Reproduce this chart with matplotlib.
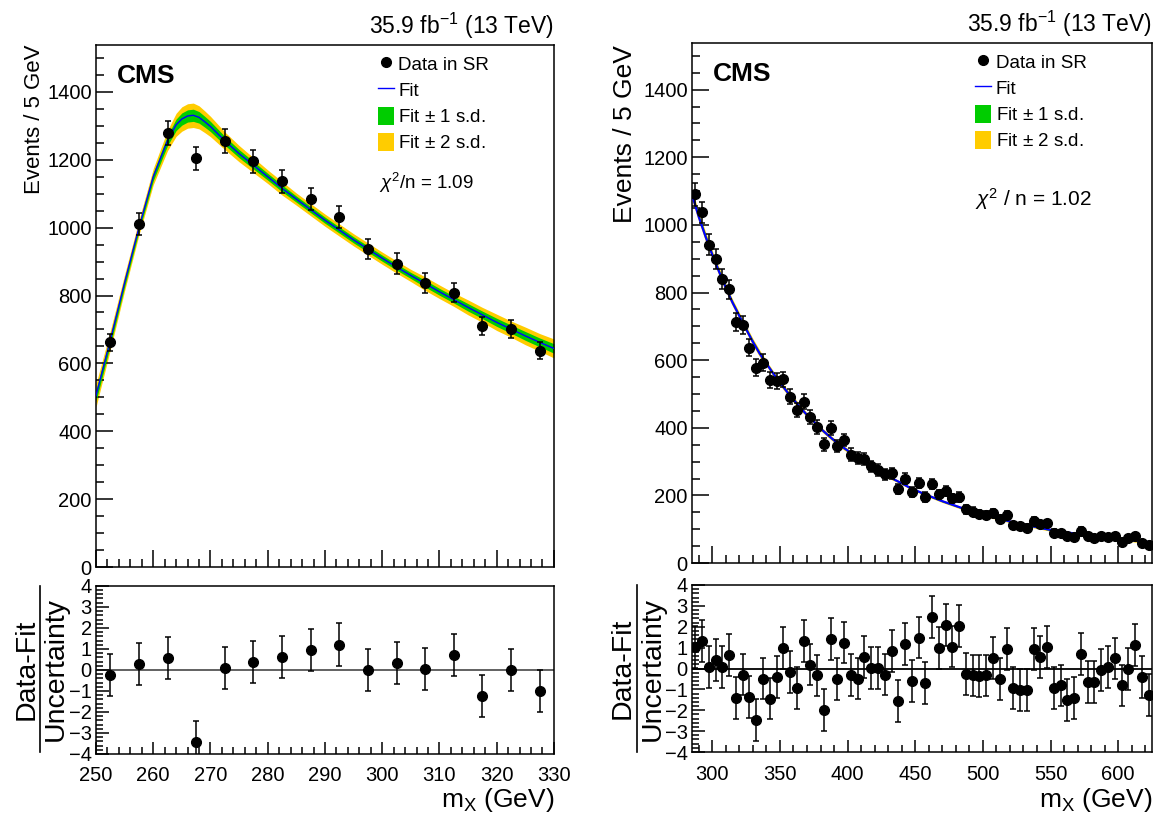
import numpy as np
import matplotlib
matplotlib.use('Agg')
import matplotlib.pyplot as plt
from matplotlib.lines import Line2D
from matplotlib.patches import Patch
from matplotlib.ticker import MultipleLocator

plt.rcParams['font.family'] = ['Liberation Sans', 'DejaVu Sans']
plt.rcParams['mathtext.fontset'] = 'custom'
plt.rcParams['mathtext.rm'] = 'Liberation Sans'
plt.rcParams['mathtext.it'] = 'Liberation Sans:italic'
plt.rcParams['mathtext.bf'] = 'Liberation Sans:bold'

# ---- linkes Panel: Daten (5 GeV Bins) ----
m_left = [252.5, 257.5, 262.5, 267.5, 272.5, 277.5, 282.5, 287.5,
          292.5, 297.5, 302.5, 307.5, 312.5, 317.5, 322.5, 327.5]
n_left = [662, 1010, 1278, 1204, 1256, 1195, 1136, 1084,
          1031, 937, 894, 837, 808, 709, 701, 637]
pull_left = [-0.24, 0.30, 0.58, -3.43, 0.08, 0.38, 0.61, 0.94,
             1.21, -0.02, 0.33, 0.06, 0.71, -1.23, -0.02, -0.98]

# Fit-Kurve links und 1 s.d. Breite
mfit_left = [250, 252.5, 255, 257.5, 260, 262.5, 264, 265, 266, 267, 268, 269,
             270, 272.5, 275, 277.5, 280, 282.5, 285, 287.5, 290, 292.5, 295,
             297.5, 300, 302.5, 305, 307.5, 310, 312.5, 315, 317.5, 320, 322.5,
             325, 327.5, 330]
fit_left = [505, 668, 838, 1000, 1150, 1257, 1303, 1320, 1329, 1331, 1325, 1312,
            1298, 1256, 1218, 1184, 1150, 1116, 1084, 1053, 1022, 993, 964,
            937, 910, 884, 859, 835, 811, 788, 765, 743, 721, 701,
            681, 662, 644]
sd_left = [17, 14, 12, 11, 12, 15, 17, 18, 18, 18, 17, 16,
           15, 13, 12, 11, 10, 10, 9, 9, 9, 9, 9,
           9, 9, 9, 9, 10, 10, 10, 11, 11, 12, 12,
           13, 13, 14]

# ---- rechtes Panel: Daten (5 GeV Bins, 285-625) ----
m_right = [287.5 + 5 * i for i in range(68)]
n_right = [1090, 1037, 941, 899, 840, 810, 714, 704, 637, 578,
           593, 541, 538, 543, 492, 453, 477, 433, 402, 351,
           400, 346, 364, 321, 312, 308, 286, 275, 263, 265,
           218, 250, 211, 236, 195, 233, 203, 213, 191, 196,
           159, 152, 146, 141, 149, 129, 142, 112, 109, 104,
           125, 114, 117, 90, 88, 80, 78, 96, 80, 75,
           80, 78, 80, 63, 73, 80, 60, 53]
pull_right = [1.03, 1.33, 0.06, 0.41, 0.08, 0.65, -1.41, -0.29, -1.37, -2.46,
              -0.48, -1.44, -0.41, 0.98, -0.16, -0.94, 1.32, 0.19, -0.33, -1.98,
              1.41, -0.51, 1.24, -0.32, -0.48, 0.56, 0.02, 0.02, -0.29, 0.83,
              -1.57, 1.19, -0.60, 1.48, -0.68, 2.46, 0.98, 2.08, 1.05, 2.03,
              -0.25, -0.33, -0.37, -0.33, 0.51, -0.49, 0.95, -0.94, -1.03, -1.03,
              0.94, 0.56, 1.02, -0.94, -0.81, -1.52, -1.43, 0.70, -0.63, -0.65,
              -0.08, 0.08, 0.48, -0.81, -0.02, 1.14, -0.41, -1.27]

mfit_right = [285 + 5 * i for i in range(69)]
fit_right = [1090, 1024, 966, 912, 862, 814, 770, 731, 692, 654,
             620, 590, 561, 534, 508, 484, 460, 438, 419, 398,
             380, 363, 347, 333, 318, 305, 292, 280, 268, 257,
             246, 236, 225, 216, 207, 199, 191, 183, 176, 169,
             162, 156, 150, 144, 138, 133, 128, 123, 118, 114,
             110, 106, 102, 98, 95, 92, 89, 86, 83, 80,
             78, 75, 73, 71, 69, 67, 65, 63, 61]
sd_right = [8, 7, 7, 6, 6, 6, 5, 5, 5, 5,
            5, 4, 4, 4, 4, 4, 4, 3, 3, 3,
            3, 3, 3, 3, 3, 3, 3, 3, 3, 3,
            2, 2, 2, 2, 2, 2, 2, 2, 2, 2,
            2, 2, 2, 2, 2, 2, 2, 2, 2, 2,
            2, 2, 2, 2, 2, 2, 2, 2, 2, 2,
            2, 2, 2, 2, 2, 2, 2, 2, 2]

GREEN = '#00cc00'
YELLOW = '#ffcc00'
BLUE = '#0000ff'


def style_axes(ax, maj, mino):
    ax.tick_params(which='both', direction='in', top=False, right=False,
                   labelsize=14.5, width=1.1, pad=3)
    ax.tick_params(which='major', length=maj)
    ax.tick_params(which='minor', length=mino)
    ax.tick_params(axis='x', pad=9)
    for s in ax.spines.values():
        s.set_linewidth(1.1)


def draw_top(ax, m, n, mf, f, sd, lw_fit):
    mf = np.array(mf, dtype=float)
    f = np.array(f, dtype=float)
    sd = np.array(sd, dtype=float)
    ax.fill_between(mf, f - 2 * sd, f + 2 * sd, color=YELLOW, lw=0, zorder=1)
    ax.fill_between(mf, f - sd, f + sd, color=GREEN, lw=0, zorder=2)
    ax.plot(mf, f, color=BLUE, lw=lw_fit, zorder=3)
    ax.errorbar(m, n, yerr=np.sqrt(n), fmt='o', color='black', ms=7,
                elinewidth=1.1, capsize=2.5, capthick=1.1, zorder=4)
    ax.set_ylim(0, 1538)
    ax.yaxis.set_major_locator(MultipleLocator(200))
    ax.yaxis.set_minor_locator(MultipleLocator(50))
    ax.tick_params(labelbottom=False)
    handles = [Line2D([], [], marker='o', color='black', ls='none', ms=7),
               Line2D([], [], color=BLUE, lw=1),
               Patch(facecolor=GREEN, edgecolor='none'),
               Patch(facecolor=YELLOW, edgecolor='none')]
    labels = ['Data in SR', 'Fit', r'Fit $\pm$ 1 s.d.', r'Fit $\pm$ 2 s.d.']
    ax.legend(handles, labels, loc='upper left', bbox_to_anchor=(0.615, 0.982),
              frameon=False, fontsize=13.5, handlelength=0.85, handleheight=1.1,
              handletextpad=0.25, labelspacing=0.36, borderaxespad=0,
              borderpad=0)


def draw_bottom(ax, m, p, zero_col):
    ax.axhline(0, color=zero_col, lw=1.3, zorder=1)
    ax.errorbar(m, p, yerr=np.ones(len(p)), fmt='o', color='black', ms=7,
                elinewidth=1.1, capsize=2.5, capthick=1.1, zorder=3)
    ax.set_ylim(-4, 4)
    ax.yaxis.set_major_locator(MultipleLocator(1))
    ax.yaxis.set_minor_locator(MultipleLocator(0.2))


def frac_label(fig, x_num, x_bar, x_den, y0, y1, size):
    yc = 0.5 * (y0 + y1)
    fig.text(x_num, yc, 'Data-Fit', rotation=90, fontsize=size,
             ha='center', va='center')
    fig.text(x_den, yc, 'Uncertainty', rotation=90, fontsize=size,
             ha='center', va='center')
    fig.add_artist(Line2D([x_bar, x_bar], [y0, y1], color='black', lw=1.2,
                          transform=fig.transFigure))


fig = plt.figure(figsize=(11.55, 8.16), dpi=100)

# Panels (Positionen in Figurenbruchteilen)
ax_lt = fig.add_axes([0.0831, 0.3051, 0.3965, 0.6397])
ax_lb = fig.add_axes([0.0831, 0.0760, 0.3965, 0.2060])
ax_rt = fig.add_axes([0.5991, 0.3100, 0.3983, 0.6373])
ax_rb = fig.add_axes([0.5991, 0.0784, 0.3983, 0.2047])

# links
draw_top(ax_lt, m_left, n_left, mfit_left, fit_left, sd_left, 1.0)
draw_bottom(ax_lb, m_left, pull_left, '#555555')
for ax in (ax_lt, ax_lb):
    ax.set_xlim(250, 330)
    ax.xaxis.set_major_locator(MultipleLocator(10))
    ax.xaxis.set_minor_locator(MultipleLocator(2))
style_axes(ax_lt, 12, 6)
style_axes(ax_lb, 9, 5)

# rechts
draw_top(ax_rt, m_right, n_right, mfit_right, fit_right, sd_right, 1.6)
draw_bottom(ax_rb, m_right, pull_right, 'black')
for ax in (ax_rt, ax_rb):
    ax.set_xlim(285, 625)
    ax.xaxis.set_major_locator(MultipleLocator(50))
    ax.xaxis.set_minor_locator(MultipleLocator(10))
style_axes(ax_rt, 12, 6)
style_axes(ax_rb, 9, 5)

# Texte
for ax, chi, chx, chy, chs in [(ax_lt, r'$\chi^2$/n = 1.09', 0.618, 0.735, 13.5),
                               (ax_rt, r'$\chi^2$ / n = 1.02', 0.615, 0.700, 15)]:
    ax.text(0.045, 0.94, 'CMS', transform=ax.transAxes, fontsize=19,
            fontweight='bold', va='center', ha='left')
    ax.text(chx, chy, chi, transform=ax.transAxes, fontsize=chs,
            va='center', ha='left')
    ax.text(1.0, 1.008, r'35.9 fb$^{-1}$ (13 TeV)', transform=ax.transAxes,
            fontsize=16.5, va='bottom', ha='right')

fig.text(0.030, 0.945, 'Events / 5 GeV', rotation=90, fontsize=16,
         ha='center', va='top')
fig.text(0.541, 0.945, 'Events / 5 GeV', rotation=90, fontsize=19,
         ha='center', va='top')

frac_label(fig, 0.0228, 0.0350, 0.0480, 0.0784, 0.2819, 20.5)
frac_label(fig, 0.5390, 0.5515, 0.5650, 0.0784, 0.2830, 20.5)

fig.text(0.4796, 0.020, r'm$_\mathrm{X}$ (GeV)', fontsize=19, ha='right', va='center')
fig.text(0.9974, 0.020, r'm$_\mathrm{X}$ (GeV)', fontsize=19, ha='right', va='center')

fig.savefig('out.png', dpi=100)
